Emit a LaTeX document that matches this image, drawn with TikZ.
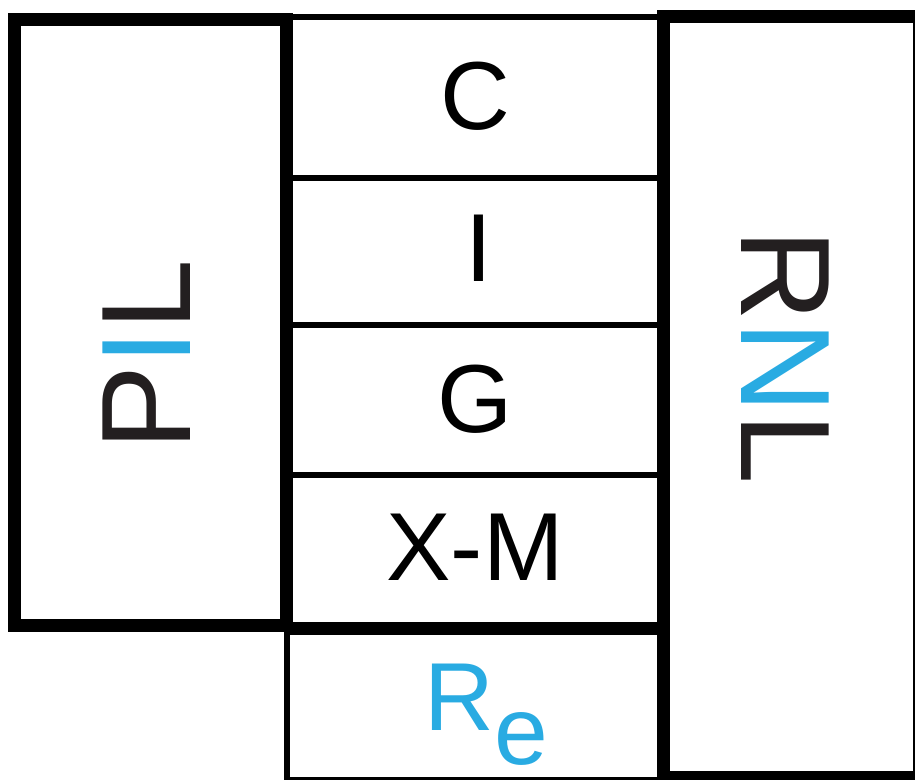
\documentclass[tikz,border=0pt]{standalone}
\usepackage{fontspec}
\setmainfont{Liberation Sans}
\definecolor{layerblue}{HTML}{29ABE2}
\definecolor{layerdark}{HTML}{231F20}
\tikzset{
  thickframe/.style={line width=7.4pt},
  thinframe/.style={line width=3.8pt},
  rowlabel/.style={font=\fontsize{55}{60}\selectfont, inner sep=0pt},
  sidelabel/.style={font=\fontsize{72.5}{80}\selectfont, text=layerdark, inner sep=0pt},
}

\begin{document}
\begin{tikzpicture}[x=0.02cm, y=-0.02cm]
  \useasboundingbox (0,0) rectangle (915,779);
  % middle column rows
  \draw[thinframe] (286,17) -- (663,17);
  \draw[thinframe] (286,178) -- (663,178);
  \draw[thinframe] (286,325) -- (663,325);
  \draw[thinframe] (286,475) -- (663,475);
  \draw[thickframe] (286,628) -- (663,628);
  % bottom cell
  \draw[thinframe] (287,628) -- (287,780) -- (663,780);
  % outer boxes
  \draw[thickframe] (14.5,19.5) rectangle (286.5,625);
  \draw[thickframe] (663.3,16.5) rectangle (919.5,777);
  % labels
  \node[rowlabel] (c) at (475,96) {C};
  \node[rowlabel] (i) at (479,248) {I};
  \node[rowlabel] (g) at (475,399) {G};
  \node[rowlabel] (xm) at (475,547) {X-M};
  \node[rowlabel, text=layerblue, anchor=base west] (re) at (424,730) {R};
  \node[rowlabel, text=layerblue, anchor=base west] (resub) at ([yshift=-0.68cm]re.base east) {e};
  \node[sidelabel, rotate=90] (pil) at (147,355) {P\textcolor{layerblue}{I}L};
  \node[sidelabel, rotate=-90] (rnl) at (785.5,356.5) {R\textcolor{layerblue}{N}L};
\end{tikzpicture}
\end{document}
